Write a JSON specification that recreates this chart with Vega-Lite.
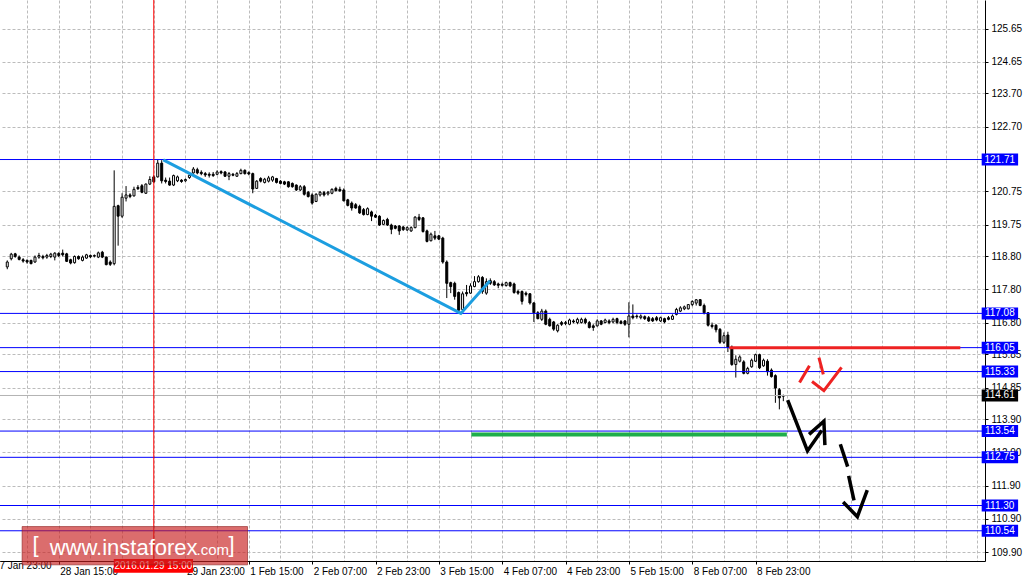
{
"$schema": "https://vega.github.io/schema/vega-lite/v6.json",
"width": 985, "height": 561,
"autosize": "none",
"padding": {"left": 0, "top": 0, "right": 45, "bottom": 23},
"background": "white",
"config": {"view": {"stroke": null}, "font": "Liberation Sans"},
"resolve": {"axis": {"x": "independent", "y": "independent"}},
"datasets": {
"candles": [
{"i":3,"o":118.478,"h":118.675,"l":118.409,"c":118.626},
{"i":4,"o":118.724,"h":118.902,"l":118.675,"c":118.862},
{"i":5,"o":118.872,"h":118.902,"l":118.754,"c":118.793},
{"i":6,"o":118.774,"h":118.823,"l":118.675,"c":118.705},
{"i":7,"o":118.695,"h":118.744,"l":118.606,"c":118.655},
{"i":8,"o":118.675,"h":118.705,"l":118.577,"c":118.626},
{"i":9,"o":118.675,"h":118.695,"l":118.557,"c":118.577},
{"i":10,"o":118.626,"h":118.823,"l":118.606,"c":118.774},
{"i":11,"o":118.774,"h":118.902,"l":118.724,"c":118.823},
{"i":12,"o":118.793,"h":118.843,"l":118.705,"c":118.754},
{"i":13,"o":118.774,"h":118.872,"l":118.724,"c":118.823},
{"i":14,"o":118.793,"h":118.902,"l":118.744,"c":118.862},
{"i":15,"o":118.774,"h":118.921,"l":118.675,"c":118.892},
{"i":16,"o":118.882,"h":118.921,"l":118.774,"c":118.823},
{"i":17,"o":118.892,"h":119.000,"l":118.793,"c":118.843},
{"i":18,"o":118.872,"h":118.902,"l":118.626,"c":118.646},
{"i":19,"o":118.695,"h":118.724,"l":118.557,"c":118.596},
{"i":20,"o":118.606,"h":118.823,"l":118.577,"c":118.793},
{"i":21,"o":118.793,"h":118.823,"l":118.695,"c":118.724},
{"i":22,"o":118.675,"h":118.823,"l":118.646,"c":118.774},
{"i":23,"o":118.744,"h":118.872,"l":118.724,"c":118.843},
{"i":24,"o":118.823,"h":118.852,"l":118.744,"c":118.783},
{"i":25,"o":118.803,"h":118.852,"l":118.764,"c":118.823},
{"i":26,"o":118.774,"h":118.941,"l":118.744,"c":118.902},
{"i":27,"o":118.921,"h":118.961,"l":118.744,"c":118.774},
{"i":28,"o":118.774,"h":118.793,"l":118.527,"c":118.547},
{"i":29,"o":118.626,"h":118.675,"l":118.508,"c":118.557},
{"i":30,"o":118.577,"h":121.384,"l":118.527,"c":120.301},
{"i":31,"o":120.320,"h":120.350,"l":119.118,"c":120.005},
{"i":32,"o":120.005,"h":120.695,"l":119.956,"c":120.576},
{"i":33,"o":120.547,"h":120.911,"l":120.448,"c":120.645},
{"i":34,"o":120.645,"h":120.695,"l":120.547,"c":120.596},
{"i":35,"o":120.616,"h":120.892,"l":120.596,"c":120.813},
{"i":36,"o":120.872,"h":120.941,"l":120.793,"c":120.833},
{"i":37,"o":120.921,"h":120.971,"l":120.695,"c":120.724},
{"i":38,"o":120.695,"h":120.990,"l":120.675,"c":120.971},
{"i":39,"o":120.971,"h":121.207,"l":120.941,"c":121.109},
{"i":40,"o":121.187,"h":121.237,"l":121.010,"c":121.040},
{"i":41,"o":121.187,"h":121.710,"l":121.168,"c":121.601},
{"i":42,"o":121.601,"h":121.690,"l":120.990,"c":121.069},
{"i":43,"o":121.089,"h":121.168,"l":120.990,"c":121.049},
{"i":44,"o":121.059,"h":121.168,"l":120.921,"c":120.941},
{"i":45,"o":120.941,"h":121.256,"l":120.911,"c":121.227},
{"i":46,"o":121.069,"h":121.227,"l":121.030,"c":121.187},
{"i":47,"o":121.089,"h":121.118,"l":121.010,"c":121.049},
{"i":48,"o":121.069,"h":121.138,"l":121.040,"c":121.109},
{"i":49,"o":121.168,"h":121.286,"l":121.128,"c":121.237},
{"i":50,"o":121.306,"h":121.483,"l":121.286,"c":121.424},
{"i":51,"o":121.404,"h":121.463,"l":121.266,"c":121.306},
{"i":52,"o":121.325,"h":121.384,"l":121.237,"c":121.286},
{"i":53,"o":121.286,"h":121.335,"l":121.187,"c":121.246},
{"i":54,"o":121.266,"h":121.325,"l":121.168,"c":121.237},
{"i":55,"o":121.266,"h":121.335,"l":121.187,"c":121.227},
{"i":56,"o":121.266,"h":121.384,"l":121.237,"c":121.335},
{"i":57,"o":121.345,"h":121.384,"l":121.266,"c":121.306},
{"i":58,"o":121.335,"h":121.365,"l":121.187,"c":121.207},
{"i":59,"o":121.207,"h":121.335,"l":121.089,"c":121.286},
{"i":60,"o":121.266,"h":121.306,"l":121.207,"c":121.237},
{"i":61,"o":121.207,"h":121.335,"l":121.187,"c":121.286},
{"i":62,"o":121.286,"h":121.434,"l":121.266,"c":121.384},
{"i":63,"o":121.384,"h":121.414,"l":121.256,"c":121.286},
{"i":64,"o":121.315,"h":121.355,"l":121.236,"c":121.276},
{"i":65,"o":121.286,"h":121.315,"l":120.695,"c":120.823},
{"i":66,"o":120.842,"h":121.089,"l":120.823,"c":121.059},
{"i":67,"o":121.138,"h":121.177,"l":121.020,"c":121.059},
{"i":68,"o":121.020,"h":121.158,"l":120.990,"c":121.118},
{"i":69,"o":121.059,"h":121.217,"l":121.020,"c":121.158},
{"i":70,"o":121.089,"h":121.217,"l":121.039,"c":121.187},
{"i":71,"o":121.138,"h":121.158,"l":120.990,"c":121.020},
{"i":72,"o":121.059,"h":121.089,"l":120.961,"c":120.990},
{"i":73,"o":121.039,"h":121.069,"l":120.941,"c":120.970},
{"i":74,"o":121.039,"h":121.059,"l":120.862,"c":120.892},
{"i":75,"o":120.990,"h":121.020,"l":120.862,"c":120.892},
{"i":76,"o":120.941,"h":120.961,"l":120.764,"c":120.793},
{"i":77,"o":120.793,"h":120.941,"l":120.764,"c":120.892},
{"i":78,"o":120.892,"h":120.941,"l":120.626,"c":120.665},
{"i":79,"o":120.724,"h":120.764,"l":120.566,"c":120.596},
{"i":80,"o":120.645,"h":120.695,"l":120.350,"c":120.399},
{"i":81,"o":120.448,"h":120.695,"l":120.429,"c":120.665},
{"i":82,"o":120.645,"h":120.764,"l":120.596,"c":120.724},
{"i":83,"o":120.714,"h":120.764,"l":120.596,"c":120.645},
{"i":84,"o":120.675,"h":120.764,"l":120.626,"c":120.724},
{"i":85,"o":120.695,"h":120.842,"l":120.665,"c":120.813},
{"i":86,"o":120.842,"h":120.892,"l":120.744,"c":120.773},
{"i":87,"o":120.813,"h":120.892,"l":120.744,"c":120.764},
{"i":88,"o":120.793,"h":120.842,"l":120.448,"c":120.468},
{"i":89,"o":120.497,"h":120.527,"l":120.300,"c":120.330},
{"i":90,"o":120.399,"h":120.448,"l":120.172,"c":120.251},
{"i":91,"o":120.350,"h":120.399,"l":120.231,"c":120.251},
{"i":92,"o":120.300,"h":120.350,"l":120.074,"c":120.103},
{"i":93,"o":120.202,"h":120.251,"l":120.024,"c":120.054},
{"i":94,"o":120.054,"h":120.271,"l":120.034,"c":120.231},
{"i":95,"o":120.133,"h":120.172,"l":119.857,"c":120.005},
{"i":96,"o":120.034,"h":120.074,"l":119.956,"c":119.975},
{"i":97,"o":120.005,"h":120.034,"l":119.710,"c":119.739},
{"i":98,"o":119.759,"h":119.907,"l":119.739,"c":119.877},
{"i":99,"o":119.906,"h":119.956,"l":119.710,"c":119.739},
{"i":100,"o":119.739,"h":119.779,"l":119.463,"c":119.611},
{"i":101,"o":119.709,"h":119.739,"l":119.611,"c":119.640},
{"i":102,"o":119.709,"h":119.739,"l":119.443,"c":119.562},
{"i":103,"o":119.680,"h":119.709,"l":119.562,"c":119.601},
{"i":104,"o":119.591,"h":119.699,"l":119.562,"c":119.660},
{"i":105,"o":119.562,"h":119.699,"l":119.532,"c":119.660},
{"i":106,"o":119.660,"h":120.005,"l":119.640,"c":119.975},
{"i":107,"o":119.975,"h":120.074,"l":119.857,"c":119.906},
{"i":108,"o":119.956,"h":119.975,"l":119.512,"c":119.542},
{"i":109,"o":119.562,"h":119.601,"l":119.217,"c":119.246},
{"i":110,"o":119.266,"h":119.512,"l":119.246,"c":119.463},
{"i":111,"o":119.414,"h":119.562,"l":119.286,"c":119.345},
{"i":112,"o":119.414,"h":119.443,"l":119.286,"c":119.315},
{"i":113,"o":119.345,"h":119.384,"l":118.576,"c":118.626},
{"i":114,"o":118.626,"h":118.675,"l":117.542,"c":117.985},
{"i":115,"o":118.005,"h":118.034,"l":117.690,"c":117.887},
{"i":116,"o":117.985,"h":118.034,"l":117.493,"c":117.591},
{"i":117,"o":117.709,"h":117.739,"l":117.120,"c":117.177},
{"i":118,"o":117.197,"h":117.739,"l":117.080,"c":117.670},
{"i":119,"o":117.709,"h":117.936,"l":117.591,"c":117.670},
{"i":120,"o":117.690,"h":117.985,"l":117.670,"c":117.906},
{"i":121,"o":117.887,"h":118.202,"l":117.867,"c":118.035},
{"i":122,"o":118.035,"h":118.231,"l":118.005,"c":118.182},
{"i":123,"o":118.163,"h":118.202,"l":117.670,"c":117.739},
{"i":124,"o":117.690,"h":118.134,"l":117.641,"c":118.035},
{"i":125,"o":118.065,"h":118.134,"l":117.937,"c":117.986},
{"i":126,"o":118.035,"h":118.084,"l":117.907,"c":117.937},
{"i":127,"o":117.966,"h":118.006,"l":117.838,"c":117.927},
{"i":128,"o":117.956,"h":118.006,"l":117.887,"c":117.927},
{"i":129,"o":117.917,"h":118.035,"l":117.887,"c":118.006},
{"i":130,"o":118.006,"h":118.035,"l":117.868,"c":117.907},
{"i":131,"o":117.966,"h":118.006,"l":117.671,"c":117.710},
{"i":132,"o":117.740,"h":117.789,"l":117.641,"c":117.690},
{"i":133,"o":117.740,"h":117.769,"l":117.346,"c":117.444},
{"i":134,"o":117.690,"h":117.740,"l":117.592,"c":117.651},
{"i":135,"o":117.671,"h":117.690,"l":117.346,"c":117.395},
{"i":136,"o":117.395,"h":117.415,"l":116.823,"c":117.099},
{"i":137,"o":117.099,"h":117.149,"l":116.902,"c":116.922},
{"i":138,"o":116.902,"h":117.217,"l":116.853,"c":117.149},
{"i":139,"o":117.149,"h":117.198,"l":116.725,"c":116.754},
{"i":140,"o":116.902,"h":116.951,"l":116.685,"c":116.705},
{"i":141,"o":116.823,"h":116.853,"l":116.557,"c":116.607},
{"i":142,"o":116.557,"h":116.754,"l":116.508,"c":116.725},
{"i":143,"o":116.804,"h":116.853,"l":116.705,"c":116.754},
{"i":144,"o":116.774,"h":116.853,"l":116.725,"c":116.804},
{"i":145,"o":116.754,"h":116.922,"l":116.725,"c":116.882},
{"i":146,"o":116.853,"h":116.902,"l":116.784,"c":116.823},
{"i":147,"o":116.804,"h":116.951,"l":116.754,"c":116.902},
{"i":148,"o":116.804,"h":116.951,"l":116.774,"c":116.902},
{"i":149,"o":116.902,"h":116.951,"l":116.754,"c":116.804},
{"i":150,"o":116.804,"h":116.853,"l":116.626,"c":116.656},
{"i":151,"o":116.705,"h":116.754,"l":116.557,"c":116.656},
{"i":152,"o":116.705,"h":116.902,"l":116.685,"c":116.853},
{"i":153,"o":116.853,"h":116.882,"l":116.725,"c":116.754},
{"i":154,"o":116.804,"h":116.922,"l":116.784,"c":116.882},
{"i":155,"o":116.853,"h":116.902,"l":116.754,"c":116.804},
{"i":156,"o":116.823,"h":116.951,"l":116.784,"c":116.902},
{"i":157,"o":116.922,"h":116.951,"l":116.754,"c":116.804},
{"i":158,"o":116.833,"h":116.882,"l":116.754,"c":116.784},
{"i":159,"o":116.853,"h":116.882,"l":116.705,"c":116.754},
{"i":160,"o":116.754,"h":117.415,"l":116.360,"c":117.001},
{"i":161,"o":117.001,"h":117.350,"l":116.902,"c":116.951},
{"i":162,"o":117.001,"h":117.050,"l":116.922,"c":116.981},
{"i":163,"o":116.951,"h":117.050,"l":116.902,"c":117.001},
{"i":164,"o":116.981,"h":117.020,"l":116.882,"c":116.922},
{"i":165,"o":116.951,"h":117.001,"l":116.823,"c":116.853},
{"i":166,"o":116.922,"h":116.971,"l":116.823,"c":116.853},
{"i":167,"o":116.951,"h":117.001,"l":116.843,"c":116.882},
{"i":168,"o":116.853,"h":116.981,"l":116.823,"c":116.951},
{"i":169,"o":116.922,"h":116.951,"l":116.784,"c":116.823},
{"i":170,"o":116.951,"h":117.001,"l":116.872,"c":116.902},
{"i":171,"o":116.902,"h":117.050,"l":116.882,"c":117.001},
{"i":172,"o":117.050,"h":117.247,"l":117.020,"c":117.198},
{"i":173,"o":117.149,"h":117.296,"l":117.119,"c":117.247},
{"i":174,"o":117.217,"h":117.316,"l":117.178,"c":117.277},
{"i":175,"o":117.217,"h":117.346,"l":117.198,"c":117.346},
{"i":176,"o":117.345,"h":117.474,"l":117.296,"c":117.440},
{"i":177,"o":117.390,"h":117.513,"l":117.316,"c":117.490},
{"i":178,"o":117.493,"h":117.513,"l":117.296,"c":117.320},
{"i":179,"o":117.316,"h":117.375,"l":117.050,"c":117.099},
{"i":180,"o":117.099,"h":117.119,"l":116.685,"c":116.725},
{"i":181,"o":116.725,"h":116.804,"l":116.626,"c":116.685},
{"i":182,"o":116.725,"h":116.754,"l":116.508,"c":116.587},
{"i":183,"o":116.600,"h":116.640,"l":116.163,"c":116.213},
{"i":184,"o":116.213,"h":116.508,"l":116.163,"c":116.410},
{"i":185,"o":116.429,"h":116.528,"l":115.917,"c":116.065},
{"i":186,"o":116.065,"h":116.114,"l":115.503,"c":115.543},
{"i":187,"o":115.543,"h":115.819,"l":115.149,"c":115.700},
{"i":188,"o":115.641,"h":115.819,"l":115.602,"c":115.769},
{"i":189,"o":115.622,"h":115.671,"l":115.247,"c":115.277},
{"i":190,"o":115.277,"h":115.474,"l":115.247,"c":115.425},
{"i":191,"o":115.474,"h":115.720,"l":115.444,"c":115.671},
{"i":192,"o":115.641,"h":115.868,"l":115.622,"c":115.838},
{"i":193,"o":115.838,"h":115.868,"l":115.405,"c":115.444},
{"i":194,"o":115.503,"h":115.720,"l":115.474,"c":115.671},
{"i":195,"o":115.641,"h":115.701,"l":115.208,"c":115.326},
{"i":196,"o":115.375,"h":115.425,"l":115.149,"c":115.178},
{"i":197,"o":115.208,"h":115.247,"l":114.390,"c":114.833},
{"i":198,"o":114.784,"h":114.833,"l":114.193,"c":114.538},
{"i":199,"o":114.587,"h":114.636,"l":114.439,"c":114.610}
],
"levels": [
{"k":"level","p":121.71},
{"k":"level","p":117.08},
{"k":"level","p":116.05},
{"k":"level","p":115.33},
{"k":"level","p":113.54},
{"k":"level","p":112.75},
{"k":"level","p":111.30},
{"k":"level","p":110.54},
{"k":"price","p":114.61}
],
"segs": [
{"g":"green","i":120.2,"i2":199.9,"p":113.44},
{"g":"red","i":185.35,"i2":243.7,"p":116.05}
],
"paths": [
{"g":"zig","n":0,"i":42.4,"p":121.70},
{"g":"zig","n":1,"i":117.55,"p":117.08},
{"g":"zig","n":2,"i":124.9,"p":118.06},
{"g":"r1","n":0,"i":203.1,"p":115.002},
{"g":"r1","n":1,"i":205.6,"p":115.505},
{"g":"r2","n":0,"i":208.0,"p":115.750},
{"g":"r2","n":1,"i":209.1,"p":115.248},
{"g":"r3","n":0,"i":206.25,"p":115.032},
{"g":"r3","n":1,"i":209.25,"p":114.754},
{"g":"r3","n":2,"i":213.7,"p":115.455},
{"g":"k1","n":0,"i":200.1,"p":114.471},
{"g":"k1","n":1,"i":205.1,"p":112.943},
{"g":"k1","n":2,"i":208.7,"p":113.555},
{"g":"k2","n":0,"i":205.5,"p":113.441},
{"g":"k2","n":1,"i":209.25,"p":113.834},
{"g":"k2","n":2,"i":209.5,"p":113.116},
{"g":"k3","n":0,"i":213.4,"p":113.141},
{"g":"k3","n":1,"i":215.25,"p":112.470},
{"g":"k4","n":0,"i":215.5,"p":112.195},
{"g":"k4","n":1,"i":216.85,"p":111.456},
{"g":"k5","n":0,"i":214.1,"p":111.406},
{"g":"k5","n":1,"i":217.7,"p":110.963},
{"g":"k5","n":2,"i":220.2,"p":111.761}
]
},
"layer": [
{
"data": {"name": "candles"},
"mark": {"type": "rule", "color": "black", "strokeWidth": 1},
"encoding": {
"x": {"field": "i", "type": "quantitative",
 "scale": {"domain": [2.425, 248.675], "nice": false, "zero": false},
 "axis": {"orient": "bottom", "title": null,
  "values": [0,8,16,24,32,40,48,56,64,72,80,88,96,104,112,120,128,136,144,152,160,168,176,184,192,200,208,216,224,232,240,248],
  "grid": true, "gridColor": "#bcbcbc", "gridDash": [3, 2], "gridWidth": 1,
  "domain": true, "domainColor": "black", "domainWidth": 1,
  "ticks": true, "tickSize": 3, "tickColor": "black",
  "tickOpacity": {"condition": {"test": "datum.value % 16 == 0 && datum.value <= 192", "value": 1}, "value": 0},
  "labelExpr": "datum.value == 16 ? '28 Jan 15:00' : datum.value == 48 ? '29 Jan 23:00' : datum.value == 64 ? '1 Feb 15:00' : datum.value == 80 ? '2 Feb 07:00' : datum.value == 96 ? '2 Feb 23:00' : datum.value == 112 ? '3 Feb 15:00' : datum.value == 128 ? '4 Feb 07:00' : datum.value == 144 ? '4 Feb 23:00' : datum.value == 160 ? '5 Feb 15:00' : datum.value == 176 ? '8 Feb 07:00' : datum.value == 192 ? '8 Feb 23:00' : ''",
  "labelAlign": "left", "labelBaseline": "top", "labelPadding": 2, "labelOffset": 1,
  "labelFont": "Liberation Sans", "labelFontSize": 10, "labelColor": "black",
  "labelOverlap": false, "labelFlush": false, "labelBound": false}},
"y": {"field": "l", "type": "quantitative",
 "scale": {"domain": [109.781, 126.359], "nice": false, "zero": false},
 "axis": {"orient": "right", "title": null,
  "values": [125.65,124.65,123.70,122.70,120.75,119.75,118.80,117.80,116.80,115.85,114.85,113.90,112.90,111.90,110.90,109.90],
  "format": ".2f",
  "grid": true, "gridColor": "#bcbcbc", "gridDash": [3, 2], "gridWidth": 1,
  "domain": true, "domainColor": "black", "domainWidth": 1,
  "ticks": true, "tickSize": 3, "tickColor": "black",
  "labelPadding": 3, "labelFont": "Liberation Sans", "labelFontSize": 10, "labelColor": "black",
  "labelOverlap": false, "labelFlush": false, "labelBound": false}},
"y2": {"field": "h"}
}
},
{
"data": {"name": "candles"},
"mark": {"type": "bar", "size": 2, "stroke": "black", "strokeWidth": 1},
"encoding": {
"x": {"field": "i", "type": "quantitative", "scale": {"domain": [2.425, 248.675], "nice": false, "zero": false}, "axis": null},
"y": {"field": "o", "type": "quantitative", "scale": {"domain": [109.781, 126.359], "nice": false, "zero": false}, "axis": null},
"y2": {"field": "c"},
"fill": {"condition": {"test": "datum.c >= datum.o", "value": "white"}, "value": "black"}
}
},
{
"data": {"name": "levels"},
"transform": [{"filter": "datum.k === 'level'"}],
"mark": {"type": "rule", "color": "#0000ff", "strokeWidth": 1},
"encoding": {
"y": {"field": "p", "type": "quantitative", "scale": {"domain": [109.781, 126.359], "nice": false, "zero": false}, "axis": null}
}
},
{
"data": {"name": "levels"},
"transform": [{"filter": "datum.k === 'price'"}],
"mark": {"type": "rule", "color": "#b4b4b4", "strokeWidth": 1},
"encoding": {
"y": {"field": "p", "type": "quantitative", "scale": {"domain": [109.781, 126.359], "nice": false, "zero": false}, "axis": null}
}
},
{
"data": {"values": [{}]},
"mark": {"type": "rule", "color": "#ff0000", "strokeWidth": 1},
"encoding": {
"x": {"datum": 40, "type": "quantitative", "scale": {"domain": [2.425, 248.675], "nice": false, "zero": false}, "axis": null}
}
},
{
"data": {"name": "segs"},
"transform": [{"filter": "datum.g === 'green'"}],
"mark": {"type": "rule", "color": "#1fae4b", "strokeWidth": 4},
"encoding": {
"x": {"field": "i", "type": "quantitative", "scale": {"domain": [2.425, 248.675], "nice": false, "zero": false}, "axis": null},
"x2": {"field": "i2"},
"y": {"field": "p", "type": "quantitative", "scale": {"domain": [109.781, 126.359], "nice": false, "zero": false}, "axis": null}
}
},
{
"data": {"name": "segs"},
"transform": [{"filter": "datum.g === 'red'"}],
"mark": {"type": "rule", "color": "#ee2222", "strokeWidth": 3},
"encoding": {
"x": {"field": "i", "type": "quantitative", "scale": {"domain": [2.425, 248.675], "nice": false, "zero": false}, "axis": null},
"x2": {"field": "i2"},
"y": {"field": "p", "type": "quantitative", "scale": {"domain": [109.781, 126.359], "nice": false, "zero": false}, "axis": null}
}
},
{
"data": {"name": "paths"},
"transform": [{"filter": "datum.g === 'zig'"}],
"mark": {"type": "line", "color": "#1c9ee0", "strokeWidth": 3},
"encoding": {
"x": {"field": "i", "type": "quantitative", "scale": {"domain": [2.425, 248.675], "nice": false, "zero": false}, "axis": null},
"y": {"field": "p", "type": "quantitative", "scale": {"domain": [109.781, 126.359], "nice": false, "zero": false}, "axis": null},
"order": {"field": "n"}
}
},
{
"data": {"name": "paths"},
"transform": [{"filter": "substring(datum.g, 0, 1) === 'r'"}],
"mark": {"type": "line", "color": "#ee2222", "strokeWidth": 3},
"encoding": {
"x": {"field": "i", "type": "quantitative", "scale": {"domain": [2.425, 248.675], "nice": false, "zero": false}, "axis": null},
"y": {"field": "p", "type": "quantitative", "scale": {"domain": [109.781, 126.359], "nice": false, "zero": false}, "axis": null},
"detail": {"field": "g"},
"order": {"field": "n"}
}
},
{
"data": {"name": "paths"},
"transform": [{"filter": "substring(datum.g, 0, 1) === 'k'"}],
"mark": {"type": "line", "color": "black", "strokeWidth": 3.5},
"encoding": {
"x": {"field": "i", "type": "quantitative", "scale": {"domain": [2.425, 248.675], "nice": false, "zero": false}, "axis": null},
"y": {"field": "p", "type": "quantitative", "scale": {"domain": [109.781, 126.359], "nice": false, "zero": false}, "axis": null},
"detail": {"field": "g"},
"order": {"field": "n"}
}
},
{
"data": {"name": "levels"},
"mark": {"type": "bar", "size": 12},
"encoding": {
"x": {"datum": 249.1, "type": "quantitative", "scale": {"domain": [2.425, 248.675], "nice": false, "zero": false}, "axis": null},
"x2": {"datum": 258.3},
"y": {"field": "p", "type": "quantitative", "scale": {"domain": [109.781, 126.359], "nice": false, "zero": false}, "axis": null},
"fill": {"field": "k", "type": "nominal", "scale": {"domain": ["level", "price"], "range": ["#0000ff", "#000000"]}, "legend": null}
}
},
{
"data": {"name": "levels"},
"mark": {"type": "text", "color": "white", "font": "Liberation Sans", "fontSize": 10, "align": "center", "baseline": "middle"},
"encoding": {
"x": {"datum": 253.675, "type": "quantitative", "scale": {"domain": [2.425, 248.675], "nice": false, "zero": false}, "axis": null},
"y": {"field": "p", "type": "quantitative", "scale": {"domain": [109.781, 126.359], "nice": false, "zero": false}, "axis": null},
"text": {"field": "p", "type": "quantitative", "format": ".2f"}
}
},
{
"data": {"values": [{}]},
"mark": {"type": "text", "color": "black", "font": "Liberation Sans", "fontSize": 10, "align": "left", "baseline": "top"},
"encoding": {
"x": {"datum": -0.4, "type": "quantitative", "scale": {"domain": [2.425, 248.675], "nice": false, "zero": false}, "axis": null},
"y": {"datum": 109.633, "type": "quantitative", "scale": {"domain": [109.781, 126.359], "nice": false, "zero": false}, "axis": null},
"text": {"value": "27 Jan 23:00"}
}
},
{
"data": {"values": [{}]},
"mark": {"type": "rect", "color": "#ff0000"},
"encoding": {
"x": {"datum": 29.9, "type": "quantitative", "scale": {"domain": [2.425, 248.675], "nice": false, "zero": false}, "axis": null},
"x2": {"datum": 49.9},
"y": {"datum": 109.69, "type": "quantitative", "scale": {"domain": [109.781, 126.359], "nice": false, "zero": false}, "axis": null},
"y2": {"datum": 109.28}
}
},
{
"data": {"values": [{}]},
"mark": {"type": "text", "color": "white", "font": "Liberation Sans", "fontSize": 10, "align": "center", "baseline": "middle"},
"encoding": {
"x": {"datum": 39.9, "type": "quantitative", "scale": {"domain": [2.425, 248.675], "nice": false, "zero": false}, "axis": null},
"y": {"datum": 109.485, "type": "quantitative", "scale": {"domain": [109.781, 126.359], "nice": false, "zero": false}, "axis": null},
"text": {"value": "2016.01.29 15:00"}
}
},
{
"data": {"values": [{}]},
"mark": {"type": "rect", "fill": "#c81e1e", "fillOpacity": 0.65, "stroke": "#8c2020", "strokeOpacity": 0.6, "strokeWidth": 1},
"encoding": {
"x": {"datum": 6.75, "type": "quantitative", "scale": {"domain": [2.425, 248.675], "nice": false, "zero": false}, "axis": null},
"x2": {"datum": 63.675},
"y": {"datum": 110.667, "type": "quantitative", "scale": {"domain": [109.781, 126.359], "nice": false, "zero": false}, "axis": null},
"y2": {"datum": 109.515}
}
},
{
"data": {"values": [{}]},
"mark": {"type": "text", "color": "white", "font": "Liberation Sans", "fontSize": 22, "align": "left", "baseline": "alphabetic"},
"encoding": {
"x": {"datum": 13.7, "type": "quantitative", "scale": {"domain": [2.425, 248.675], "nice": false, "zero": false}, "axis": null},
"y": {"datum": 109.811, "type": "quantitative", "scale": {"domain": [109.781, 126.359], "nice": false, "zero": false}, "axis": null},
"text": {"value": "www.instaforex"}
}
},
{
"data": {"values": [{}]},
"mark": {"type": "text", "color": "white", "font": "Liberation Sans", "fontSize": 15, "align": "left", "baseline": "alphabetic"},
"encoding": {
"x": {"datum": 50.8, "type": "quantitative", "scale": {"domain": [2.425, 248.675], "nice": false, "zero": false}, "axis": null},
"y": {"datum": 109.811, "type": "quantitative", "scale": {"domain": [109.781, 126.359], "nice": false, "zero": false}, "axis": null},
"text": {"value": ".com"}
}
},
{
"data": {"values": [{}]},
"mark": {"type": "text", "color": "white", "font": "Liberation Sans", "fontSize": 22, "align": "left", "baseline": "alphabetic"},
"encoding": {
"x": {"datum": 9.4, "type": "quantitative", "scale": {"domain": [2.425, 248.675], "nice": false, "zero": false}, "axis": null},
"y": {"datum": 109.9, "type": "quantitative", "scale": {"domain": [109.781, 126.359], "nice": false, "zero": false}, "axis": null},
"text": {"value": "["}
}
},
{
"data": {"values": [{}]},
"mark": {"type": "text", "color": "white", "font": "Liberation Sans", "fontSize": 22, "align": "left", "baseline": "alphabetic"},
"encoding": {
"x": {"datum": 58.9, "type": "quantitative", "scale": {"domain": [2.425, 248.675], "nice": false, "zero": false}, "axis": null},
"y": {"datum": 109.9, "type": "quantitative", "scale": {"domain": [109.781, 126.359], "nice": false, "zero": false}, "axis": null},
"text": {"value": "]"}
}
}
]
}
